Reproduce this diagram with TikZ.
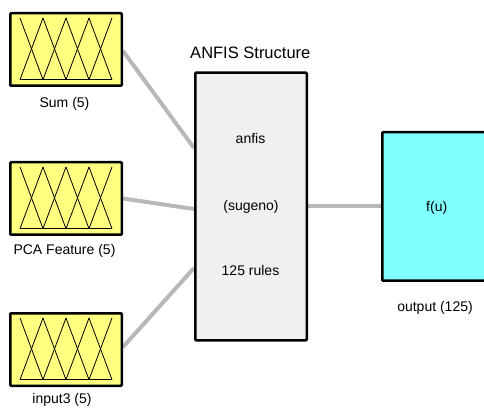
\documentclass[tikz,border=0pt]{standalone}
\usepackage{fontspec}
\setmainfont{Liberation Sans}
\usetikzlibrary{backgrounds}
\definecolor{mfyellow}{RGB}{255,255,128}
\definecolor{fisgray}{RGB}{240,240,240}
\definecolor{outcyan}{RGB}{128,255,255}
\definecolor{wire}{RGB}{184,184,184}
\begin{document}
\begin{tikzpicture}[x=1pt,y=-1pt,
  block/.style={draw=black, line width=2.5pt, rounded corners=1pt, inner sep=0pt},
  mfblock/.style={block, fill=mfyellow, minimum width=111.5pt, minimum height=72.5pt},
  caption/.style={font=\fontsize{14}{16}\selectfont, inner sep=0pt, anchor=base},
  conn/.style={draw=wire, line width=4pt},
  mfs/.pic={
    \foreach \i in {-2,...,1} {
      \draw[line width=0.8pt] (\i*23,-31.5) -- (\i*23+23,30.2);
      \draw[line width=0.8pt] (\i*23,30.2) -- (\i*23+23,-31.5);
    }
    \draw[line width=0.8pt] (-46,30.2) -- (46,30.2);
  }]
\path[use as bounding box] (0,0) rectangle (484,411);
\clip (0,0) rectangle (484,411);

% input membership-function blocks
\node[mfblock] (in1) at (66,49.5) {};
\node[mfblock] (in2) at (66,198.5) {};
\node[mfblock] (in3) at (66,349.5) {};
\pic at (66,49.5) {mfs};
\pic at (66,198.5) {mfs};
\pic at (66,349.5) {mfs};

% FIS block and output block
\node[block, fill=fisgray, minimum width=111.5pt, minimum height=267.5pt] (fis) at (251,206.5) {};
\node[block, fill=outcyan, minimum width=108.5pt, minimum height=148.5pt] (out) at (436.5,206.5) {};

% captions
\node[caption] (l1) at (64.5,107.3) {Sum (5)};
\node[caption] (l2) at (64.5,254.3) {PCA Feature (5)};
\node[caption] (l3) at (62,403) {input3 (5)};
\node[caption, font=\fontsize{16.5}{19}\selectfont] (title) at (250.3,58.3) {ANFIS Structure};
\node[caption] (t1) at (250.5,143.3) {anfis};
\node[caption] (t2) at (251,210.5) {(sugeno)};
\node[caption] (t3) at (250.5,276) {125 rules};
\node[caption] (fu) at (436.7,212) {f(u)};
\node[caption] (lo) at (435,311) {output (125)};

% connections
\begin{scope}[on background layer]
  \fill[white] (0,0) rectangle (484,411);
  \draw[conn] ([yshift=-1.5pt]in1.east) -- ([yshift=58.5pt]fis.west);
  \draw[conn] (in2.east) -- ([yshift=-2.5pt]fis.west);
  \draw[conn] ([yshift=2.5pt]in3.east) -- ([yshift=-61.5pt]fis.west);
  \draw[conn] (fis.east) -- (out.west);
\end{scope}
\end{tikzpicture}
\end{document}
